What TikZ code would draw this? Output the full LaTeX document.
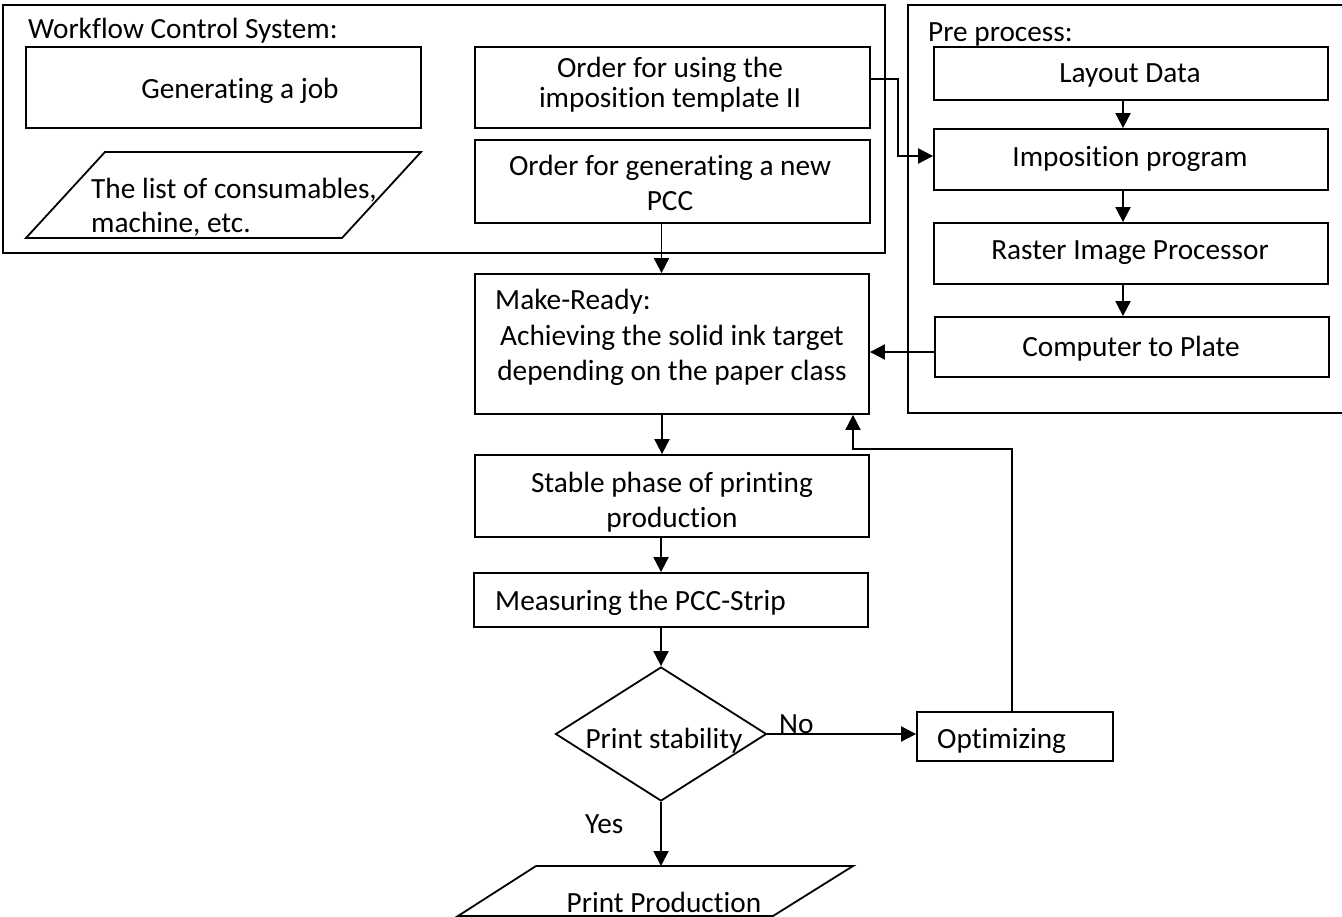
\documentclass[tikz,border=0pt]{standalone}
\usepackage{fontspec}
\setmainfont{Carlito}[Ligatures=NoCommon]
\usetikzlibrary{fit,shapes.geometric,arrows.meta}
\begin{document}
\begin{tikzpicture}[x=1pt,y=-1pt,
  box/.style={draw,line width=1.8pt,inner sep=0pt},
  shapeline/.style={line width=1.8pt,line join=miter},
  txt/.style={inner sep=0pt,anchor=base,font=\fontsize{29.3}{34}\selectfont},
  ltxt/.style={txt,anchor=base west},
  conn/.style={line width=1.9pt},
  arr/.style={conn,-{Triangle[length=15pt,width=15pt]}}]
\useasboundingbox (0,0) rectangle (1342,917);

% ---- Workflow Control System group
\node[box,fit={(3,5) (885,253)}] (wcs) {};
\node[ltxt] (wcst) at (28,39) {Workflow Control System:};
\node[box,fit={(26,47) (421,128)}] (job) {};
\node[txt] (jobt) at (240,99) {Generating a job};
\draw[shapeline] (105,152) -- (421,152) -- (342,238) -- (26,238) -- cycle;
\node[ltxt] (list1) at (91,199) {The list of consumables,};
\node[ltxt] (list2) at (91,233) {machine, etc.};
\node[box,fit={(475,47) (870,128)}] (using) {};
\node[txt] (using1) at (670,78) {Order for using the};
\node[txt] (using2) at (670,108) {imposition template II};
\node[box,fit={(475,140) (870,223)}] (gen) {};
\node[txt] (gen1) at (670,176) {Order for generating a new};
\node[txt] (gen2) at (670,211) {PCC};

% ---- Pre process group
\node[box,fit={(908,5) (1370,413)}] (pre) {};
\node[ltxt] (pret) at (928,42) {Pre process:};
\node[box,fit={(934,47) (1328,100)}] (lay) {};
\node[txt] (layt) at (1130,83) {Layout Data};
\node[box,fit={(934,129) (1328,190)}] (imp) {};
\node[txt] (impt) at (1130,167) {Imposition program};
\node[box,fit={(934,223) (1328,284)}] (ras) {};
\node[txt] (rast) at (1130,260) {Raster Image Processor};
\node[box,fit={(935,317) (1329,377)}] (ctp) {};
\node[txt] (ctpt) at (1131,356) {Computer to Plate};

% ---- main flow
\node[box,fit={(475,274) (869,414)}] (mr) {};
\node[ltxt] (mr1) at (495,310) {Make-Ready:};
\node[txt] (mr2) at (672,346) {Achieving the solid ink target};
\node[txt] (mr3) at (672,381) {depending on the paper class};
\node[box,fit={(475,455) (869,537)}] (st) {};
\node[txt] (st1) at (672,492) {Stable phase of printing};
\node[txt] (st2) at (672,527) {production};
\node[box,fit={(474,573) (868,627)}] (meas) {};
\node[ltxt] (meast) at (495,610) {Measuring the PCC-Strip};
\node[draw,diamond,line width=1.8pt,inner sep=0pt,minimum width=211pt,minimum height=134pt] (dec) at (661,734) {};
\node[txt] (dect) at (664,748) {Print stability};
\node[box,fit={(917,712) (1113,761)}] (opt) {};
\node[ltxt] (optt) at (937,748) {Optimizing};
\draw[shapeline] (536,866) -- (853,866) -- (773,916) -- (458,916) -- cycle;
\coordinate (pptop) at (661,866);
\node[txt] (ppt) at (664,912) {Print Production};
\node[ltxt] (no) at (779,733) {No};
\node[ltxt] (yes) at (585,833) {Yes};

% ---- connectors
\draw[arr] ([yshift=8.5pt]using.east) -- ++(27,0) |- ([yshift=3.5pt]imp.west);
\draw[arr] ([xshift=-8pt]lay.south) -- ([xshift=-8pt]imp.north);
\draw[arr] ([xshift=-8pt]imp.south) -- ([xshift=-8pt]ras.north);
\draw[arr] ([xshift=-8pt]ras.south) -- ([xshift=-9pt]ctp.north);
\draw[arr] ([yshift=-5pt]ctp.west) -- ([yshift=-5pt]ctp.west -| mr.east);
\draw[arr] ([xshift=-11pt]gen.south) -- ([xshift=-11pt]gen.south |- mr.north);
\draw[arr] ([xshift=-10pt]mr.south) -- ([xshift=-10pt]mr.south |- st.north);
\draw[arr] ([xshift=-11pt]st.south) -- ([xshift=-11pt]st.south |- meas.north);
\draw[arr] (meas.south -| dec.north) -- (dec.north);
\draw[arr] (dec.east) -- (dec.east -| opt.west);
\draw[arr] ([xshift=-3pt]opt.north) |- ([xshift=181pt,yshift=-34pt]mr.south) -- ([xshift=181pt]mr.south);
\draw[arr] (dec.south) -- (pptop);
\end{tikzpicture}
\end{document}
